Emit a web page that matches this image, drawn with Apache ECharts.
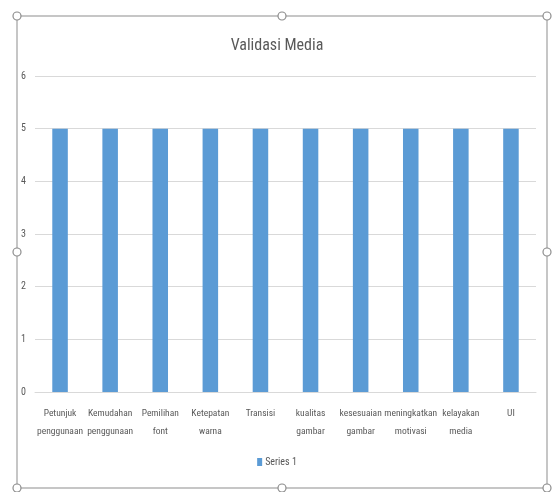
<!DOCTYPE html>
<html><head><meta charset="utf-8">
<script src="https://cdn.jsdelivr.net/npm/echarts@6/dist/echarts.min.js"></script>
<style>html,body{margin:0;padding:0;background:#fff}#c{width:554px;height:492px}</style>
</head><body><div id="c"></div>
<script>
const categories = ["Petunjuk\npenggunaan","Kemudahan\npenggunaan","Pemilihan\nfont","Ketepatan\nwarna","Transisi","kualitas\ngambar","kesesuaian\ngambar","meningkatkan\nmotivasi","kelayakan\nmedia","UI"];
const series1 = [5,5,5,5,5,5,5,5,5,5];
const seriesName = "Series 1";
const titleText = "Validasi Media";

const FONT = "'Roboto Condensed','Liberation Sans',sans-serif";
const frame = '#b4b4b4';
const handles = [[17,16],[282,16],[547,16],[17,252],[547,252],[17,488],[282,488],[547,488]];
const chart = echarts.init(document.getElementById('c'));
chart.setOption({
  animation:false,
  title:{text:titleText,left:'center',top:33,textStyle:{fontFamily:FONT,fontSize:16,fontWeight:'normal',color:'#595959'}},
  legend:{data:[seriesName],bottom:20,left:'center',itemWidth:5,itemHeight:8,itemGap:4,icon:'rect',
    textStyle:{fontFamily:FONT,fontSize:10,color:'#595959',padding:[0,0,0,-2]}},
  grid:{left:35,right:18,top:76,bottom:100,containLabel:false},
  xAxis:{type:'category',data:categories,axisTick:{show:false},
    axisLine:{lineStyle:{color:'#d9d9d9'}},
    axisLabel:{interval:0,fontFamily:FONT,fontSize:9.5,color:'#595959',lineHeight:18,margin:13}},
  yAxis:{type:'value',min:0,max:6,interval:1,
    axisLabel:{fontFamily:FONT,fontSize:10,color:'#595959',margin:9},
    splitLine:{lineStyle:{color:'#d9d9d9'}},axisLine:{show:false},axisTick:{show:false}},
  series:[{name:seriesName,type:'bar',data:series1,barWidth:'31%',itemStyle:{color:'#5b9bd5'}}],
  graphic:[
    {type:'rect',shape:{x:17,y:16,width:530,height:472},style:{fill:'none',stroke:frame,lineWidth:1.5},z:100},
    ...handles.map(h=>({type:'circle',shape:{cx:h[0],cy:h[1],r:4},style:{fill:'#fff',stroke:'#8c8c8c',lineWidth:1.2},z:101}))
  ]
});
</script></body></html>
